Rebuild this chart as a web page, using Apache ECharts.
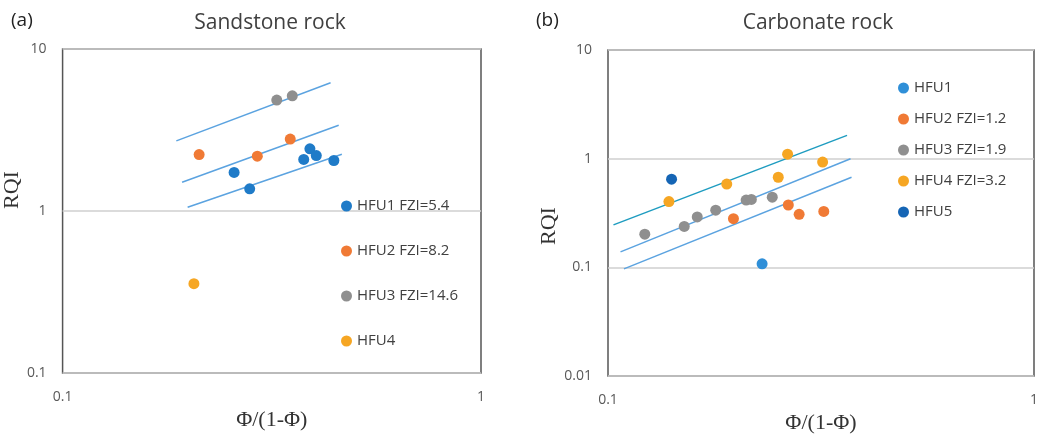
<!DOCTYPE html>
<html>
<head>
<meta charset="utf-8">
<script src="https://cdn.jsdelivr.net/npm/echarts@6/dist/echarts.min.js"></script>
<style>
html,body{margin:0;padding:0;background:#fff;}
#c{width:1041px;height:439px;}
</style>
</head>
<body>
<div id="c"></div>
<script>
// ---------- Panel (a): Sandstone rock ----------
const aNames = ['HFU1 FZI=5.4', 'HFU2 FZI=8.2', 'HFU3 FZI=14.6', 'HFU4'];
const aHFU1 = [[0.257, 1.73], [0.280, 1.37], [0.377, 2.08], [0.390, 2.42], [0.404, 2.20], [0.445, 2.05]];
const aHFU2 = [[0.212, 2.23], [0.292, 2.18], [0.350, 2.78]];
const aHFU3 = [[0.325, 4.84], [0.354, 5.14]];
const aHFU4 = [[0.206, 0.356]];
const aLine1 = [[0.199, 1.054], [0.465, 2.24]];
const aLine2 = [[0.193, 1.505], [0.457, 3.38]];
const aLine3 = [[0.187, 2.71], [0.437, 6.19]];

// ---------- Panel (b): Carbonate rock ----------
const bNames = ['HFU1', 'HFU2 FZI=1.2', 'HFU3 FZI=1.9', 'HFU4 FZI=3.2', 'HFU5'];
const bHFU1 = [[0.230, 0.108]];
const bHFU2 = [[0.197, 0.281], [0.265, 0.375], [0.281, 0.308], [0.321, 0.327]];
const bHFU3 = [[0.122, 0.202], [0.151, 0.238], [0.162, 0.291], [0.179, 0.336], [0.211, 0.416], [0.217, 0.422], [0.243, 0.443]];
const bHFU4 = [[0.139, 0.403], [0.190, 0.584], [0.251, 0.675], [0.264, 1.10], [0.319, 0.932]];
const bHFU5 = [[0.141, 0.648]];
const bLine1 = [[0.109, 0.097], [0.373, 0.675]];
const bLine2 = [[0.107, 0.139], [0.371, 1.0]];
const bLine3 = [[0.103, 0.246], [0.364, 1.64]];

// tick labels
const xTicks = ['0.1', '1'];
const yTicksA = ['0.1', '1', '10'];
const yTicksB = ['0.01', '0.1', '1', '10'];

const C_BLUE = '#1f7bc8', C_ORANGE = '#f07a35', C_GRAY = '#8f8f8f', C_YELLOW = '#f6a623', C_DBLUE = '#1565b5';
const C_LINE = '#5ba3e0', C_TEAL = '#1e9cc0';
const SANS = '"Open Sans", "Noto Sans", sans-serif';
const SERIF = '"Liberation Serif", "DejaVu Serif", serif';

function fmt(v) { return String(Number(Number(v).toPrecision(6))); }

function xAxisCfg(gi, nameGap) {
  return {
    type: 'log', logBase: 10, min: 0.1, max: 1, gridIndex: gi,
    name: 'Φ/(1-Φ)', nameLocation: 'middle', nameGap: nameGap,
    nameTextStyle: { fontFamily: SERIF, fontSize: 22, color: '#333' },
    axisLine: { show: false }, axisTick: { show: false },
    splitLine: { show: false }, minorTick: { show: false },
    axisLabel: { fontFamily: SANS, fontSize: 14, color: '#595959', margin: 17,
      formatter: v => { const s = fmt(v); return xTicks.includes(s) ? s : ''; } }
  };
}
function yAxisCfg(gi, min, ticks, pad) {
  return {
    type: 'log', logBase: 10, min: min, max: 10, gridIndex: gi,
    name: 'RQI', nameLocation: 'middle', nameGap: 34, nameRotate: 90,
    nameTextStyle: { fontFamily: SERIF, fontSize: 22, color: '#333', padding: pad },
    axisLine: { show: false }, axisTick: { show: false },
    splitLine: { show: true, lineStyle: { color: '#cfcfcf', width: 1.5 } },
    axisLabel: { fontFamily: SANS, fontSize: 14, color: '#595959', margin: 16,
      formatter: v => { const s = fmt(v); return ticks.includes(s) ? s : ''; } }
  };
}
function scat(name, data, color, xi) {
  return { name: name, type: 'scatter', xAxisIndex: xi, yAxisIndex: xi, data: data,
    symbol: 'circle', symbolSize: 11, itemStyle: { color: color, opacity: 1 }, z: 3 };
}
function fit(name, data, color, xi) {
  return { name: name, type: 'line', xAxisIndex: xi, yAxisIndex: xi, data: data,
    showSymbol: false, symbol: 'none', silent: true,
    lineStyle: { color: color, width: 1.5 }, z: 2 };
}

const option = {
  backgroundColor: '#fff',
  animation: false,
  title: [
    { text: '(a)', left: 6, top: 6, textStyle: { fontFamily: SANS, fontSize: 19, fontWeight: 'normal', color: '#222' } },
    { text: 'Sandstone rock', left: 265, top: 8, textAlign: 'center', textStyle: { fontFamily: SANS, fontSize: 21, fontWeight: 'normal', color: '#404040' } },
    { text: '(b)', left: 531, top: 6, textStyle: { fontFamily: SANS, fontSize: 19, fontWeight: 'normal', color: '#222' } },
    { text: 'Carbonate rock', left: 813, top: 8, textAlign: 'center', textStyle: { fontFamily: SANS, fontSize: 21, fontWeight: 'normal', color: '#404040' } }
  ],
  grid: [
    { left: 59, top: 49, width: 422, height: 324, show: true, borderColor: '#555', borderWidth: 1.5, backgroundColor: 'transparent' },
    { left: 608, top: 50, width: 436, height: 334, show: true, borderColor: '#555', borderWidth: 1.5, backgroundColor: 'transparent' }
  ],
  xAxis: [xAxisCfg(0, 24), Object.assign(xAxisCfg(1, 27), { max: 1 })],
  yAxis: [yAxisCfg(0, 0.1, yTicksA, [0, 0, 0, 42]), yAxisCfg(1, 0.01, yTicksB, [0, 26, 0, 0])],
  legend: [
    { data: aNames, orient: 'vertical', left: 336, top: 193, itemWidth: 11, itemHeight: 11, itemGap: 29,
      icon: 'circle', textStyle: { fontFamily: SANS, fontSize: 15, color: '#404040', lineHeight: 16 } },
    { data: bNames, orient: 'vertical', left: 893, top: 75, itemWidth: 11, itemHeight: 11, itemGap: 15,
      icon: 'circle', textStyle: { fontFamily: SANS, fontSize: 15, color: '#404040', lineHeight: 16 } }
  ],
  series: [
    fit('fitA1', aLine1, C_LINE, 0),
    fit('fitA2', aLine2, C_LINE, 0),
    fit('fitA3', aLine3, C_LINE, 0),
    scat(aNames[0], aHFU1, C_BLUE, 0),
    scat(aNames[1], aHFU2, C_ORANGE, 0),
    scat(aNames[2], aHFU3, C_GRAY, 0),
    scat(aNames[3], aHFU4, C_YELLOW, 0),
    fit('fitB1', bLine1, C_LINE, 1),
    fit('fitB2', bLine2, C_LINE, 1),
    fit('fitB3', bLine3, C_TEAL, 1),
    scat(bNames[0], bHFU1, '#2f8fd8', 1),
    scat(bNames[1], bHFU2, C_ORANGE, 1),
    scat(bNames[2], bHFU3, C_GRAY, 1),
    scat(bNames[3], bHFU4, C_YELLOW, 1),
    scat(bNames[4], bHFU5, C_DBLUE, 1)
  ]
};
const chart = echarts.init(document.getElementById('c'), null, { renderer: 'canvas' });
chart.setOption(option);
</script>
</body>
</html>
